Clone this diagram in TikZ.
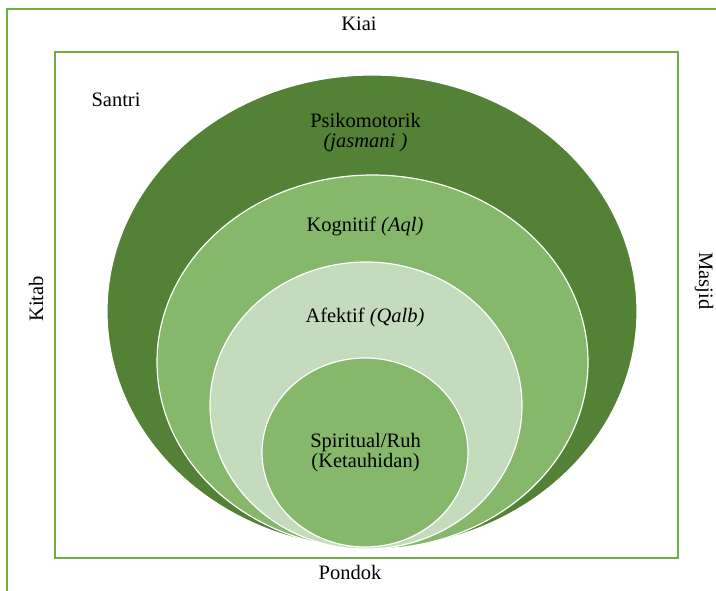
\documentclass[tikz,border=0pt]{standalone}
\usepackage{fontspec}
\setmainfont{Liberation Serif}
\definecolor{darkgreen}{HTML}{538135}
\definecolor{midgreen}{HTML}{85B86B}
\definecolor{palegreen}{HTML}{C5DBBE}
\definecolor{linegreen}{HTML}{70AD47}
\begin{document}
\begin{tikzpicture}[x = 1pt, y = -1pt,
    every node/.style = {font = \fontsize{20.5}{24}\selectfont, align = center, anchor = base, inner sep = 0pt},
    ring/.style = {draw = white, line width = 1.2pt},
    frame/.style = {draw = linegreen, line width = 1.4pt}]
        \useasboundingbox (0,0) rectangle (716,591);
        \clip (0,0) rectangle (716,591);
        \draw[frame] (7,9) rectangle (740,620);
        \draw[frame] (55,52) rectangle (678,558);
        % rings
        \draw[ring, fill = darkgreen] (372,311.5) ellipse [x radius = 265, y radius = 236.5];
        \draw[ring, fill = midgreen] (372.5,362) ellipse [x radius = 215.5, y radius = 187];
        \draw[ring, fill = palegreen] (366,405.5) ellipse [x radius = 156, y radius = 143.5];
        \draw[ring, fill = midgreen] (365,452.5) ellipse [x radius = 103, y radius = 94.5];
        % labels
        \node (kiai) at (359,31) {Kiai};
        \node (pondok) at (350,579) {Pondok};
        \node[rotate = 90] (kitab) at (43,299) {Kitab};
        \node[rotate = -90] (masjid) at (699,281) {Masjid};
        \node (santri) at (116,107) {Santri};
        \node (psiko) at (365.5,148) {Psikomotorik\\[-4pt]\textit{(jasmani )}};
        \node (kognitif) at (365,232) {Kognitif \textit{(Aql)}};
        \node (afektif) at (365,323) {Afektif \textit{(Qalb)}};
        \node (ruh) at (365.5,467) {Spiritual/Ruh\\[-4pt](Ketauhidan)};
\end{tikzpicture}
\end{document}
